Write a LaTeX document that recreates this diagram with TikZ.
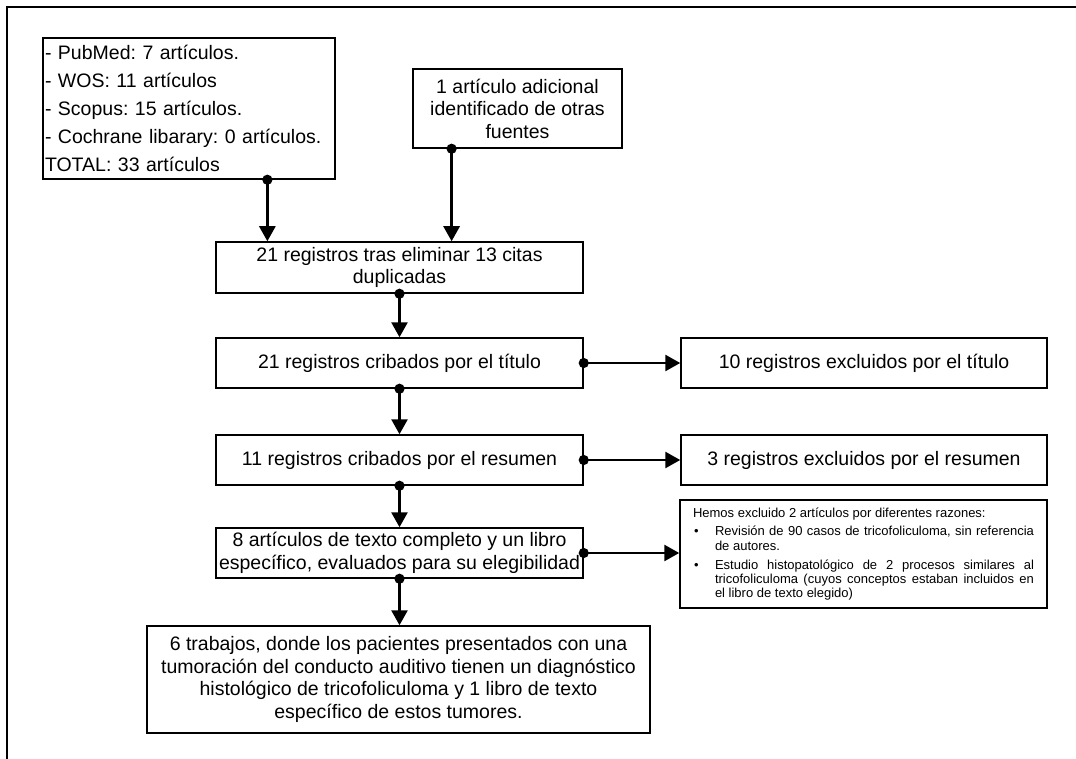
\documentclass[tikz,border=0pt]{standalone}
\usepackage{fontspec}
\setmainfont{Liberation Sans}
\usetikzlibrary{arrows.meta,positioning,calc}

\newcommand{\razon}[1]{\par\vspace{4.5pt}\hangindent=22pt\hangafter=1\noindent\makebox[22pt][l]{\hspace{1pt}\textbullet}#1\par}

\begin{document}
\frenchspacing
\begin{tikzpicture}[x=1pt,y=-1pt]
\tikzstyle{box} = [
	shape=rectangle,
	draw=black, %border of the box
	line width=1.5pt,
	fill=white,
	inner sep=1pt,
	align=center,
	font=\fontsize{19.5}{22.5}\selectfont
];
\tikzstyle{flow} = [
	{Circle[length=10pt]}-{Triangle[length=15pt,width=16pt]},
	shorten <=-5pt
];

\useasboundingbox (0,0) rectangle (1076,759);
%frame
\draw[line width=1.5pt] (1076,7) -- (7,7) -- (7,759);

%sources
\node[box, align=left, text width=288pt, inner xsep=2pt, minimum height=141pt,
	font=\fontsize{19.5}{28.2}\selectfont] (src) at (189,108.5)
	{- PubMed: 7 artículos.\\- WOS: 11 artículos\\- Scopus: 15 artículos.\\- Cochrane libarary: 0 artículos.\\TOTAL: 33 artículos};
\node[box, minimum width=209pt, minimum height=79pt] (extra) at (517.5,108.5)
	{1 artículo adicional\\identificado de otras\\fuentes};

%screening
\node[box, minimum width=367pt, minimum height=51pt] (dup) at (399.5,267.5)
	{21 registros tras eliminar 13 citas\\duplicadas};
\node[box, minimum width=367pt, minimum height=50pt] (titulo) at (399.5,363)
	{21 registros cribados por el título};
\node[box, minimum width=367pt, minimum height=50pt] (resumen) at (399.5,460)
	{11 registros cribados por el resumen};
\node[box, minimum width=367pt, minimum height=50pt] (texto) at (399.5,553)
	{8 artículos de texto completo y un libro\\específico, evaluados para su elegibilidad};
\node[box, minimum width=503pt, minimum height=107pt] (final) at (398.5,679.5)
	{6 trabajos, donde los pacientes presentados con una\\tumoración del conducto auditivo tienen un diagnóstico\\histológico de tricofoliculoma y 1 libro de texto\\específico de estos tumores.};

%excluded
\node[box, minimum width=366pt, minimum height=50pt] (extit) at (864,363)
	{10 registros excluidos por el título};
\node[box, minimum width=366pt, minimum height=50pt] (exres) at (864,460)
	{3 registros excluidos por el resumen};
\node[box, align=justify, text width=341pt, inner xsep=13pt, minimum height=108pt,
	font=\fontsize{13}{14.3}\selectfont] (razones) at (863.5,554)
	{Hemos excluido 2 artículos por diferentes razones:
	\razon{Revisión de 90 casos de tricofoliculoma, sin referencia\linebreak de autores.}
	\razon{Estudio histopatológico de 2 procesos similares al\linebreak tricofoliculoma (cuyos conceptos estaban incluidos en\linebreak el libro de texto elegido)}};

%input arrows
\coordinate (a1) at ($(src.south west)!0.767!(src.south east)$);
\coordinate (a2) at ($(extra.south west)!0.187!(extra.south east)$);
\draw[line width=2.7pt]
	(a1) edge[flow] (a1 |- dup.north)
	(a2) edge[flow] (a2 |- dup.north)
;

%main flow
\draw[line width=2.7pt]
	(dup.south) edge[flow] (titulo.north)
	(titulo.south) edge[flow] (resumen.north)
	(resumen.south) edge[flow] (texto.north)
	(texto.south) edge[flow] (texto.south |- final.north)
;

%excluded records
\draw[line width=2.7pt]
	(titulo.east) edge[flow] (extit.west)
	(resumen.east) edge[flow] (exres.west)
	(texto.east) edge[flow] (texto.east -| razones.west)
;
\end{tikzpicture}
\end{document}
